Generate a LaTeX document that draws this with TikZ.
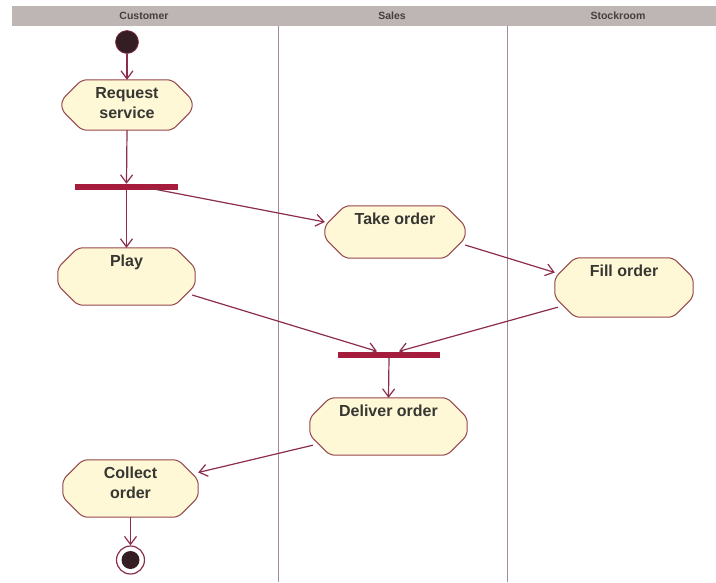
\documentclass[tikz,border=0pt]{standalone}
\usepackage{fontspec}
\setmainfont{Liberation Sans}
\usetikzlibrary{arrows.meta}

\definecolor{flow}{RGB}{140,45,75}
\definecolor{barcol}{RGB}{165,28,60}
\definecolor{actline}{RGB}{150,70,75}
\definecolor{actfill}{RGB}{255,248,215}
\definecolor{acttxt}{RGB}{55,55,50}
\definecolor{headfill}{RGB}{190,182,180}
\definecolor{headtxt}{RGB}{70,62,62}
\definecolor{lanecol}{RGB}{165,140,155}
\definecolor{dotfill}{RGB}{52,30,36}

\tikzset{
  actshape/.style={rectangle, draw=none, inner sep=0pt},
  actborder/.style={draw=actline, fill=actfill, line width=1pt, rounded corners=5pt},
  acttext/.style={anchor=north, inner sep=0pt, align=center, text=acttxt,
    font=\fontsize{16}{20}\selectfont\bfseries},
  syncbar/.style={rectangle, fill=barcol, inner sep=0pt},
  flowline/.style={draw=flow, line width=1.2pt, -{Straight Barb[length=8pt,width=12pt]}},
  laneline/.style={draw=lanecol, line width=0.9pt},
  lanehead/.style={text=headtxt, font=\fontsize{10.5}{12}\selectfont\bfseries},
  startdot/.style={circle, fill=dotfill, draw=flow, line width=0.6pt, minimum size=23pt, inner sep=0pt},
  endring/.style={circle, fill=white, draw=flow, line width=1.2pt, minimum size=28pt, inner sep=0pt},
  enddot/.style={circle, fill=dotfill, minimum size=18pt, inner sep=0pt},
}

% activity: name, x, y, width, height, text
\newcommand\activity[6]{%
  \node[actshape, minimum width=#4pt, minimum height=#5pt] (#1) at (#2,#3) {};
  \path[actborder]
    ([xshift=20pt]#1.north west) -- ([xshift=-20pt]#1.north east)
    -- ([yshift=-20pt]#1.north east) -- ([yshift=20pt]#1.south east)
    -- ([xshift=-20pt]#1.south east) -- ([xshift=20pt]#1.south west)
    -- ([yshift=20pt]#1.south west) -- ([yshift=-20pt]#1.north west) -- cycle;
  \node[acttext] (#1-label) at ([yshift=-7pt]#1.north) {#6};
}

\begin{document}
\begin{tikzpicture}[x=1pt, y=-1pt]
  \useasboundingbox (0,0) rectangle (716,582);
  \fill[white] (0,0) rectangle (716,582);

  % swimlane header and separators
  \fill[headfill] (12,6) rectangle (716,26);
  \node[lanehead] (h1) at (144,16) {Customer};
  \node[lanehead] (h2) at (392,16) {Sales};
  \node[lanehead] (h3) at (618,16) {Stockroom};
  \coordinate (l1top) at (278,26);
  \coordinate (l1bot) at (278,582);
  \coordinate (l2top) at (507,26);
  \coordinate (l2bot) at (507,582);
  \draw[laneline] (l1top) -- (l1bot);
  \draw[laneline] (l2top) -- (l2bot);

  % activities
  \activity{req}{127}{105}{130}{50}{Request\\service}
  \activity{play}{126.5}{276.5}{137}{57}{Play}
  \activity{take}{395}{232}{140}{52}{Take order}
  \activity{fill}{624}{287.5}{138}{59}{Fill order}
  \activity{deliver}{388.5}{426.5}{157}{57}{Deliver order}
  \activity{collect}{130.5}{488.5}{135}{57}{Collect\\order}

  % fork / join bars
  \node[syncbar, minimum width=103pt, minimum height=6pt] (fork) at (126.5,187) {};
  \node[syncbar, minimum width=102pt, minimum height=6pt] (join) at (389,354.5) {};

  % initial and final nodes
  \node[startdot] (start) at (127,42) {};
  \node[endring] (final) at (130.5,560) {};
  \node[enddot] (finaldot) at (final.center) {};

  % control flow
  \draw[flowline] (start) -- (req.north);
  \draw[flowline] (req.south) -- (fork.north);
  \draw[flowline] (fork.south) -- (play.north);
  \draw[flowline] ([xshift=22pt,yshift=-1pt]fork.center) -- ([yshift=10pt]take.west);
  \draw[flowline] ([yshift=-13pt]take.east) -- ([yshift=15pt]fill.west);
  \draw[flowline] ([xshift=-3pt,yshift=-18.5pt]play.east) -- ([xshift=-12pt]join.north);
  \draw[flowline] ([xshift=3pt,yshift=10pt]fill.south west) -- ([xshift=10pt]join.north);
  \draw[flowline] (join.south) -- (deliver.north);
  \draw[flowline] ([xshift=3pt,yshift=10pt]deliver.south west) -- ([yshift=16pt]collect.east);
  \draw[flowline] (collect.south) -- (final.north);
\end{tikzpicture}
\end{document}
